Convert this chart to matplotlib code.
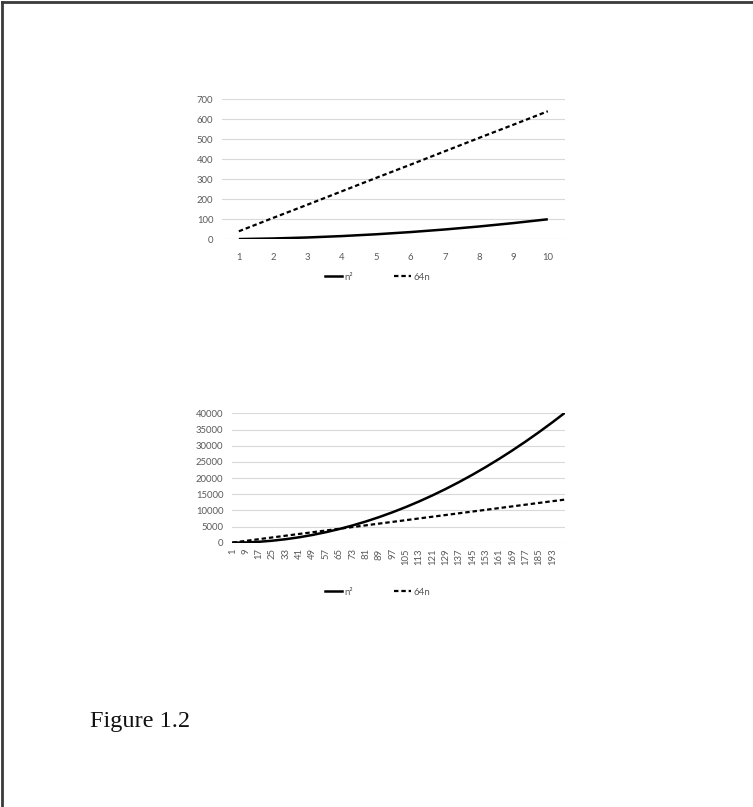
import matplotlib
matplotlib.use("Agg")
import matplotlib.pyplot as plt
from matplotlib.lines import Line2D

# small chart: n = 1..10
n_small = [1, 2, 3, 4, 5, 6, 7, 8, 9, 10]
sq_small = [1, 4, 9, 16, 25, 36, 49, 64, 81, 100]
lin_small = [40, 107, 173, 240, 307, 373, 440, 507, 573, 640]

# large chart: n = 1..200 (values read at the labelled categories)
n_big = [1, 9, 17, 25, 33, 41, 49, 57, 65, 73, 81, 89, 97, 105, 113, 121,
         129, 137, 145, 153, 161, 169, 177, 185, 193, 200]
sq_big = [1, 81, 289, 625, 1089, 1681, 2401, 3249, 4225, 5329, 6561, 7921,
          9409, 11025, 12769, 14641, 16641, 18769, 21025, 23409, 25921,
          28561, 31329, 34225, 37249, 40000]
lin_big = [40, 570, 1110, 1640, 2170, 2710, 3240, 3770, 4310, 4840, 5370,
           5910, 6440, 6970, 7510, 8040, 8570, 9110, 9640, 10170, 10710,
           11240, 11770, 12310, 12840, 13300]
big_labels = [str(v) for v in n_big[:-1]]

series_names = ["n²", "64n"]

plt.rcParams['font.family'] = ['Lato', 'DejaVu Sans']
TXT = '#595959'
GRID = '#d9d9d9'
DASH = (0, (2.0, 1.3))

fig = plt.figure(figsize=(7.53, 8.07), dpi=100)


def style_axes(ax, yticks):
    for s in ax.spines.values():
        s.set_visible(False)
    ax.set_yticks(yticks)
    ax.grid(axis='y', color=GRID, linewidth=0.8)
    ax.set_axisbelow(True)
    ax.tick_params(length=0, labelsize=6.8, labelcolor=TXT, pad=6)


# -------------------------------------------------------------------------
# top chart
# -------------------------------------------------------------------------
ax1 = fig.add_axes([0.2944, 0.7035, 0.4559, 0.1735])
ax1.plot(n_small, sq_small, color='black', lw=1.8, solid_capstyle='butt')
ax1.plot(n_small, lin_small, color='black', lw=1.6, linestyle=DASH)
ax1.set_xlim(0.5, 10.5)
ax1.set_ylim(0, 700)
ax1.set_xticks(n_small)
style_axes(ax1, range(0, 701, 100))
ax1.tick_params(axis='x', pad=10)

# -------------------------------------------------------------------------
# bottom chart
# -------------------------------------------------------------------------
ax2 = fig.add_axes([0.3077, 0.3275, 0.4426, 0.1603])
ax2.plot(n_big, sq_big, color='black', lw=1.8)
ax2.plot(n_big, lin_big, color='black', lw=1.6, linestyle=DASH)
ax2.set_xlim(0.5, 200.5)
ax2.set_ylim(0, 40000)
ax2.set_xticks(n_big[:-1])
ax2.set_xticklabels(big_labels, rotation=90)
style_axes(ax2, range(0, 40001, 5000))
ax2.tick_params(axis='x', pad=4)

# legends
handles = [Line2D([], [], color='black', lw=1.8),
           Line2D([], [], color='black', lw=1.6, linestyle=DASH)]
for y in (0.6564, 0.266):
    fig.legend(handles, series_names, loc='center', bbox_to_anchor=(0.501, y),
               ncol=2, frameon=False, fontsize=7, labelcolor=TXT,
               handlelength=1.8, handletextpad=0.2, columnspacing=4.2)

# caption
fig.text(90 / 753, 1 - 727 / 807, "Figure 1.2", family='Liberation Serif',
         fontsize=17.5, color='#111111', va='baseline')

# page border (top and left edges)
fig.add_artist(Line2D([0.003, 1], [0.9975, 0.9975], color='#3a3a3a', lw=2,
                      transform=fig.transFigure))
fig.add_artist(Line2D([0.003, 0.003], [0, 0.9975], color='#3a3a3a', lw=2,
                      transform=fig.transFigure))

fig.savefig("out.png", dpi=100)
